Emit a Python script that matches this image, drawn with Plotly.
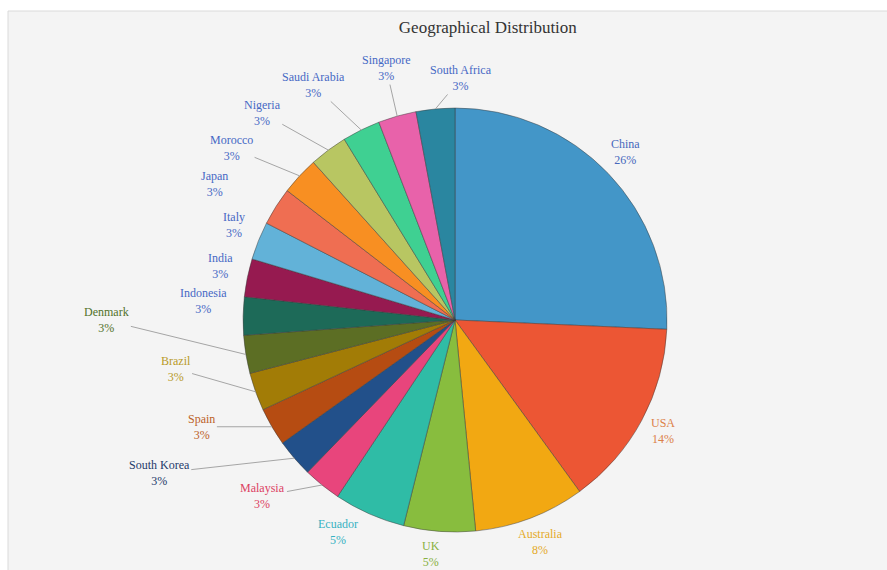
import math
import plotly.graph_objects as go

# ---- data ----
countries = ["China", "USA", "Australia", "UK", "Ecuador", "Malaysia", "South Korea",
             "Spain", "Brazil", "Denmark", "Indonesia", "India", "Italy", "Japan",
             "Morocco", "Nigeria", "Saudi Arabia", "Singapore", "South Africa"]
shares = [25.7, 14.3, 8.45, 5.45, 5.45, 2.9, 2.9, 2.9, 2.9, 2.9, 2.9, 2.9,
          2.9, 2.9, 2.9, 2.9, 2.9, 2.9, 2.95]

# ---- styles ----
slice_colors = ["#4396c8", "#ec5634", "#f2a812", "#88bd3e", "#2fbca6", "#e8457c",
                "#22508a", "#b64c12", "#a27c06", "#5c6e24", "#1d6a58", "#961a50",
                "#62b2d8", "#ef6e52", "#f88f22", "#b8c662", "#3fd092", "#e862aa",
                "#2a86a0"]
label_colors = ["#4668bc", "#dc8048", "#e4aa28", "#88b040", "#36b2c2", "#dc4262",
                "#243a6a", "#bc6228", "#b89a28", "#52722a", "#4668c4", "#4668c4",
                "#4668c4", "#4668c4", "#4668c4", "#4668c4", "#4668c4", "#4668c4",
                "#4668c4"]
# label offsets (px) from the slice's outer edge midpoint, and whether a leader line is drawn
label_offsets = [(17, -21), (21, 11), (10, 24), (-8, 23), (-31, 18), (-59, 11),
                 (-135, 15), (-70, 0), (-80, -23), (-139, -34), (-40, -15), (-27, -12),
                 (-24, -16), (-62, -22), (-68, -28), (-66, -37), (-48, -45), (-11, -48),
                 (26, -31)]
leader = [False, False, False, False, False, True, True, True, True, True, False, False,
          False, False, True, True, True, True, True]

W, H = 887, 570
dom_x = [0.274, 0.752]
dom_y = [0.0667, 0.8105]
cx_px = (dom_x[0] + dom_x[1]) / 2 * W
cy_px = (1 - (dom_y[0] + dom_y[1]) / 2) * H
R = min((dom_x[1] - dom_x[0]) * W, (dom_y[1] - dom_y[0]) * H) / 2

fig = go.Figure(go.Pie(
    labels=countries, values=shares, sort=False, direction="clockwise", rotation=0,
    marker=dict(colors=slice_colors, line=dict(color="rgba(60,60,60,0.6)", width=0.8)),
    textinfo="none", hoverinfo="label+percent",
    domain=dict(x=dom_x, y=dom_y), showlegend=False,
))

total = sum(shares)
annotations = []
cum = 0.0
for name, v, col, off, ld in zip(countries, shares, label_colors, label_offsets, leader):
    mid = (cum + v / 2) / total * 2 * math.pi
    cum += v
    ax_px = cx_px + R * math.sin(mid)
    ay_px = cy_px - R * math.cos(mid)
    pct = f"{round(v / total * 100)}%"
    annotations.append(dict(
        x=ax_px / W, y=1 - ay_px / H, xref="paper", yref="paper",
        text=f"{name}<br>{pct}", showarrow=True, arrowhead=0, arrowwidth=1,
        arrowcolor="#a5a5a5" if ld else "rgba(0,0,0,0)",
        ax=off[0], ay=off[1], standoff=0, startstandoff=0,
        font=dict(family="Liberation Serif, serif", size=12, color=col),
        align="center",
    ))

fig.update_layout(
    width=W, height=H,
    margin=dict(l=0, r=0, t=0, b=0),
    paper_bgcolor="white", plot_bgcolor="white",
    title=dict(text="Geographical Distribution", x=0.55, xanchor="center",
               y=1 - 27 / H, yanchor="middle",
               font=dict(family="Liberation Serif, serif", size=17, color="#333333")),
    shapes=[dict(type="rect", xref="paper", yref="paper", x0=8 / W, x1=1.01,
                 y0=-0.01, y1=1 - 11 / H, fillcolor="#f4f4f4",
                 line=dict(color="#dadada", width=1), layer="below")],
    annotations=annotations,
)

fig.write_html("out.html")
